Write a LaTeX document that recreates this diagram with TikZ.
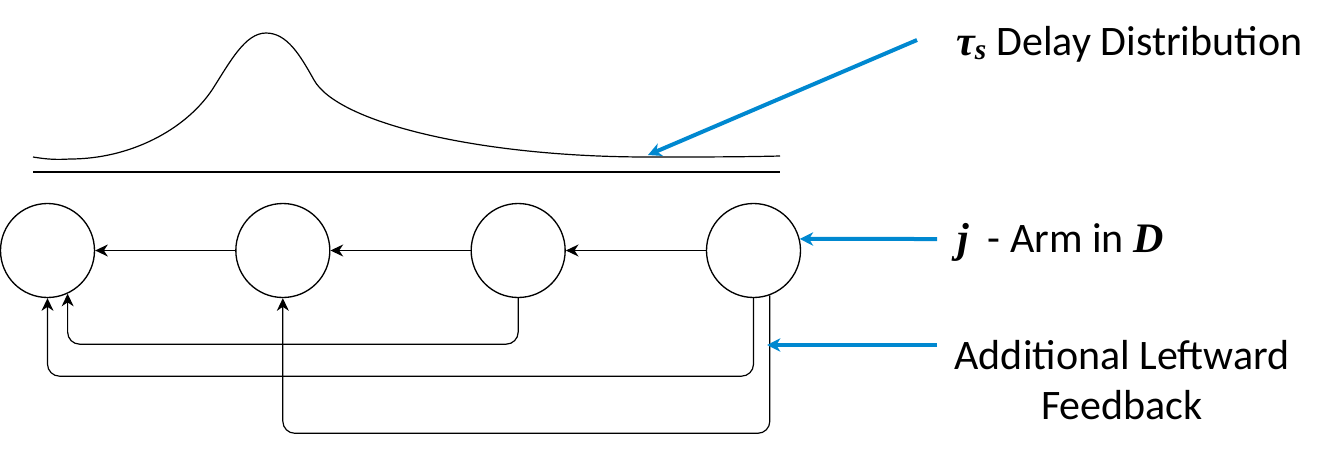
\documentclass[tikz,border=0pt]{standalone}
\usepackage{amsmath}
\usepackage{fontspec}
\setmainfont{Carlito}
\newfontfamily\bvfont{Liberation Serif}
\newcommand{\bv}[1]{\text{\bvfont\bfseries\itshape #1}}
\usepackage{tikz}
\usetikzlibrary{arrows.meta,positioning}
\definecolor{mycblue}{HTML}{0088D0}
\definecolor{mycline}{HTML}{000000}

\begin{document}
\begin{tikzpicture}[
  x=0.75pt,y=-0.75pt,
  node distance=105pt,
  arm/.style={draw=mycline,circle,line width=1pt,minimum size=70.5pt,inner sep=0pt},
  arrow/.style={-{Stealth[length=9.5pt,width=9pt,inset=3pt]},line width=0.9pt,mycline},
  fb/.style={arrow,rounded corners=9pt},
  pointer/.style={-{Stealth[length=10pt,width=10pt,inset=3pt]},line width=3pt,mycblue},
  label/.style={font=\fontsize{31.5}{37}\selectfont,inner sep=0pt}
]
\useasboundingbox (0,0) rectangle (1343,454);

\node[arm] (a1) at (47.5,250.5) {};
\node[arm,right=of a1] (a2) {};
\node[arm,right=of a2] (a3) {};
\node[arm,right=of a3] (a4) {};

\draw[line width=0.9pt] (33,157) .. controls (45,159) and (55,160) .. (70,159)
  .. controls (130,159) and (185,130) .. (212,90)
  .. controls (230,62) and (245,33) .. (266,33)
  .. controls (287,33) and (300,55) .. (314,80)
  .. controls (338,123) and (480,157) .. (648,157)
  .. controls (700,157) and (740,157) .. (780,156);
\draw[line width=0.9pt] (33,172) -- (780,172);

\draw[arrow] (a2) -- (a1);
\draw[arrow] (a3) -- (a2);
\draw[arrow] (a4) -- (a3);
\draw[fb] (a3.south) -- ++(0,46) -| (a1.-65.5);
\draw[fb] (a4.south) -- ++(0,78) -| (a1.south);
\draw[fb] (a4.-70) -- ++(0,138) -| (a2.south);

\node[label,anchor=base west] (dist) at (956,55) {$\bv{τ}_{\bv{s}}$ Delay Distribution};
\node[label,anchor=base west] (armtxt) at (957,252) {$\bv{j}$\ \ - Arm in $\bv{D}$};
\node[label,align=center] (fbtxt) at (1122,380) {Additional Leftward\\Feedback};

\coordinate (p1) at (917,40);
\coordinate (q1) at (648,155);
\coordinate (p2) at (937,239);
\coordinate (p3) at (937,345);
\coordinate (q3) at (767,345);
\draw[pointer] (p1) -- (q1);
\draw[pointer] (p2) -- (a4.14);
\draw[pointer] (p3) -- (q3);
\end{tikzpicture}
\end{document}
